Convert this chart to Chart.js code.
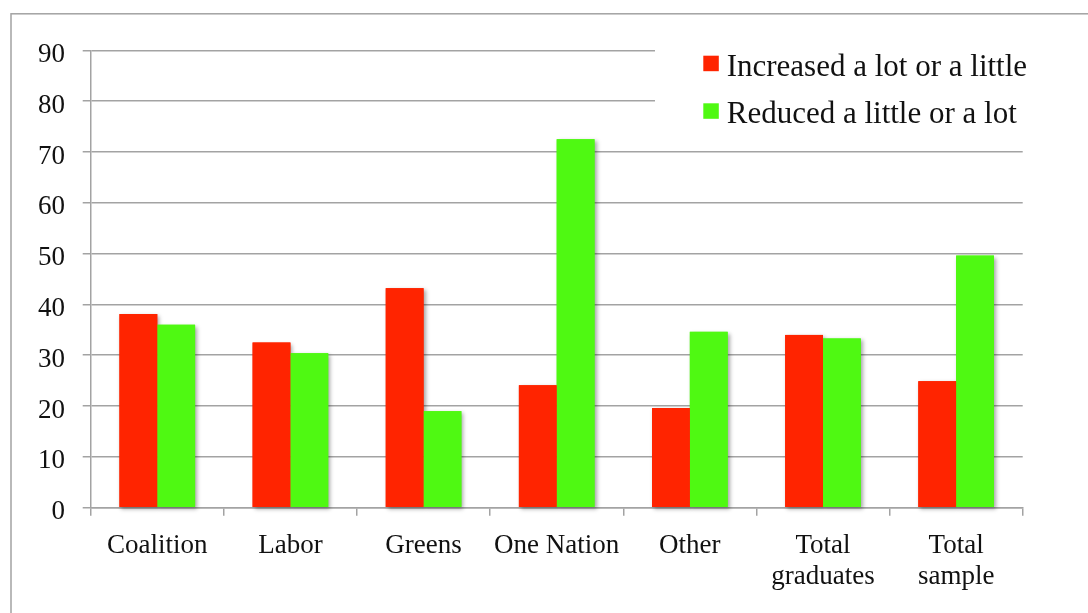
<!DOCTYPE html>
<html>
<head>
<meta charset="utf-8">
<script src="https://cdn.jsdelivr.net/npm/chart.js@4/dist/chart.umd.min.js"></script>
<style>
  html, body { margin: 0; padding: 0; background: #ffffff; }
  #wrap { position: relative; width: 1088px; height: 613px; }
  canvas { display: block; }
</style>
</head>
<body>
<div id="wrap"><canvas id="chart" width="1088" height="613"></canvas></div>
<script>
// Party groups along the x axis
const categories = [
  'Coalition',
  'Labor',
  'Greens',
  'One Nation',
  'Other',
  ['Total', 'graduates'],
  ['Total', 'sample']
];

// Percent of respondents in each group
const increasedValues = [38.1, 32.5, 43.2, 24.1, 19.6, 34.0, 24.9];
const reducedValues   = [36.0, 30.4, 19.0, 72.5, 34.6, 33.3, 49.6];

const seriesLabels = ['Increased a lot or a little', 'Reduced a little or a lot'];
const seriesColors = ['#ff2400', '#4ff912'];

// Value axis ticks
const yTicks = [0, 10, 20, 30, 40, 50, 60, 70, 80, 90];

const FONT = '"Liberation Serif", "Times New Roman", serif';
const GRID = '#a3a3a3';

// Outer frame around the chart
const framePlugin = {
  id: 'frame',
  beforeDraw(chart) {
    const ctx = chart.ctx;
    ctx.save();
    ctx.fillStyle = '#ffffff';
    ctx.fillRect(0, 0, chart.width, chart.height);
    ctx.strokeStyle = GRID;
    ctx.lineWidth = 1.5;
    ctx.strokeRect(11, 13.8, chart.width + 40, chart.height + 40);
    ctx.restore();
  }
};

// Soft drop shadow under every bar, drawn before the bars themselves
const barShadowPlugin = {
  id: 'barShadow',
  beforeDatasetsDraw(chart) {
    const ctx = chart.ctx;
    ctx.save();
    ctx.shadowColor = 'rgba(0,0,0,0.35)';
    ctx.shadowBlur = 4;
    ctx.shadowOffsetX = 2;
    ctx.shadowOffsetY = 2;
    chart.data.datasets.forEach((ds, di) => {
      const meta = chart.getDatasetMeta(di);
      ctx.fillStyle = ds.backgroundColor;
      meta.data.forEach(bar => {
        const p = bar.getProps(['x', 'y', 'width', 'base'], true);
        ctx.fillRect(p.x - p.width / 2, p.y, p.width, p.base - p.y);
      });
    });
    ctx.restore();
  }
};

// Legend box sitting over the top-right of the plot
const legendPlugin = {
  id: 'boxLegend',
  afterDraw(chart) {
    const ctx = chart.ctx;
    ctx.save();
    ctx.fillStyle = '#ffffff';
    ctx.fillRect(655, 30, 420, 105);
    ctx.font = '31px ' + FONT;
    ctx.textBaseline = 'alphabetic';
    ctx.textAlign = 'left';
    const rows = [
      { sq: 55.7, base: 75.5 },
      { sq: 103.3, base: 123 }
    ];
    chart.data.datasets.forEach((ds, i) => {
      ctx.fillStyle = ds.backgroundColor;
      ctx.fillRect(703.3, rows[i].sq, 15.5, 15.5);
      ctx.fillStyle = '#111111';
      ctx.fillText(ds.label, 726.7, rows[i].base);
    });
    ctx.restore();
  }
};

new Chart(document.getElementById('chart'), {
  type: 'bar',
  data: {
    labels: categories,
    datasets: [
      {
        label: seriesLabels[0],
        data: increasedValues,
        backgroundColor: seriesColors[0],
        borderWidth: 0,
        barPercentage: 1.0,
        categoryPercentage: 0.568
      },
      {
        label: seriesLabels[1],
        data: reducedValues,
        backgroundColor: seriesColors[1],
        borderWidth: 0,
        barPercentage: 1.0,
        categoryPercentage: 0.568
      }
    ]
  },
  options: {
    responsive: false,
    animation: false,
    devicePixelRatio: 1,
    layout: { padding: { left: 0, right: 65.3, top: 50.3, bottom: 20.3 } },
    plugins: {
      legend: { display: false },
      tooltip: { enabled: false }
    },
    scales: {
      x: {
        grid: {
          offset: true,
          drawOnChartArea: false,
          drawTicks: true,
          tickLength: 8,
          color: GRID,
          lineWidth: 1.5
        },
        border: { display: true, color: GRID, width: 1.5 },
        ticks: {
          color: '#111111',
          font: { family: FONT, size: 27, lineHeight: 1.15 },
          padding: 15,
          maxRotation: 0,
          autoSkip: false
        },
        afterFit(scale) { scale.height = 85; }
      },
      y: {
        min: 0,
        max: 90,
        afterBuildTicks(scale) {
          scale.ticks = yTicks.map(v => ({ value: v }));
        },
        grid: {
          color: GRID,
          lineWidth: 1.5,
          drawTicks: true,
          tickLength: 8
        },
        border: { display: true, color: GRID, width: 1.5 },
        ticks: {
          color: '#111111',
          // empty first line nudges each number a few pixels below its gridline
          callback: (value) => ['', String(value)],
          font: { family: FONT, size: 27, lineHeight: '9px' },
          padding: 17.7
        },
        afterFit(scale) { scale.width = 90.7; }
      }
    }
  },
  plugins: [framePlugin, barShadowPlugin, legendPlugin]
});
</script>
</body>
</html>
